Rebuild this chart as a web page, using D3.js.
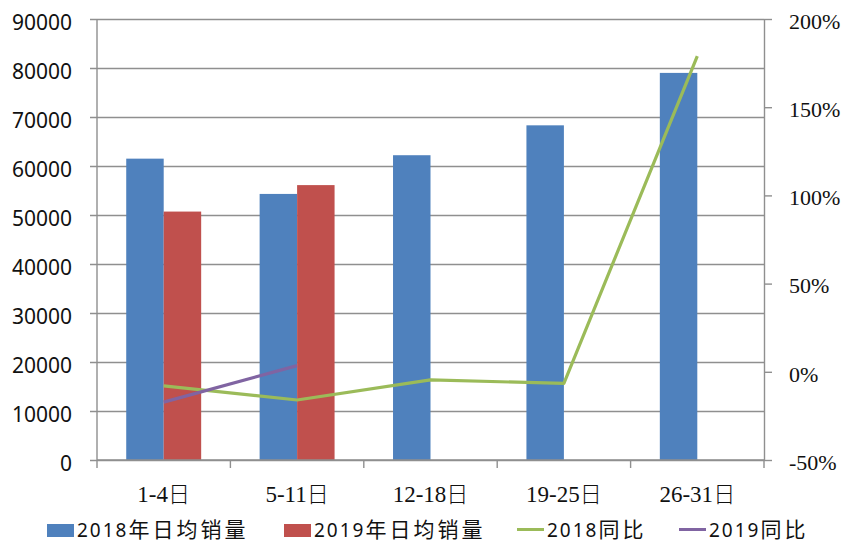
<!DOCTYPE html>
<html><head><meta charset="utf-8">
<script src="https://cdn.jsdelivr.net/npm/d3@7"></script>
<style>
html,body{margin:0;padding:0;background:#fff;}
</style></head>
<body>
<svg id="chart" width="846" height="543"></svg>
<script>
const categories = ["1-4日","5-11日","12-18日","19-25日","26-31日"];
const sales2018 = [61500, 54300, 62200, 68300, 79000];
const sales2019 = [50700, 56100, null, null, null];
const yoy2018 = [-0.08, -0.16, -0.046, -0.066, 1.79];
const yoy2019 = [-0.172, 0.035, null, null, null];
const leftTicks = [0,10000,20000,30000,40000,50000,60000,70000,80000,90000];
const rightTicks = [-0.5,0,0.5,1,1.5,2];
const rightTickLabels = ["-50%","0%","50%","100%","150%","200%"];
const seriesNames = ["2018年日均销量","2019年日均销量","2018同比","2019同比"];
const colors = {s18:"#4F81BD", s19:"#C0504D", y18:"#9BBB59", y19:"#8064A2"};

const L = 97, R = 764, T = 19, B = 460;
const grid = "#8f8f8f";
const svg = d3.select("#chart");

const x = d3.scaleBand().domain(categories).range([L, R]).paddingInner(0).paddingOuter(0);
const xs = d3.scaleBand().domain(["2018","2019"]).range([0, x.bandwidth()]).paddingInner(0).paddingOuter(0.78);
const yL = d3.scaleLinear().domain([0, 90000]).range([B, T]);
const yR = d3.scaleLinear().domain([-0.5, 2]).range([B, T]);

function runs(s){
  const out=[]; let cur="", cj=null;
  for(const ch of s){ const c = /[^\x00-\x7f]/.test(ch); if(cj===null||c===cj){cur+=ch;cj=c;} else {out.push([cur,cj]);cur=ch;cj=c;} }
  if(cur) out.push([cur,cj]); return out;
}

// Left axis with gridlines
const gL = svg.append("g").attr("transform",`translate(${R},0)`)
  .call(d3.axisLeft(yL).tickValues(leftTicks).tickSize(R-L+7).tickPadding(18).tickFormat(d3.format("d")));
gL.select(".domain").remove();
gL.selectAll(".tick line").attr("stroke", grid).attr("stroke-width", 1.4);
gL.selectAll(".tick text").attr("font-family","'Noto Sans', 'Open Sans', sans-serif").attr("font-size",21)
  .attr("fill","#111").attr("dy","0.52em");

svg.append("line").attr("x1",L).attr("x2",L).attr("y1",T).attr("y2",B).attr("stroke",grid).attr("stroke-width",1.4);

// Bars
const bars = svg.append("g");
categories.forEach((c,i)=>{
  bars.append("rect").attr("x", x(c)+xs("2018")).attr("width", xs.bandwidth())
    .attr("y", yL(sales2018[i])).attr("height", B - yL(sales2018[i])).attr("fill", colors.s18);
  if(sales2019[i]!=null)
    bars.append("rect").attr("x", x(c)+xs("2019")).attr("width", xs.bandwidth())
      .attr("y", yL(sales2019[i])).attr("height", B - yL(sales2019[i])).attr("fill", colors.s19);
});

// X axis line and boundary ticks
svg.append("line").attr("x1",L).attr("x2",R).attr("y1",B).attr("y2",B).attr("stroke",grid).attr("stroke-width",1.4);
const bounds = [x(categories[0])].concat(categories.map(c=>x(c)+x.bandwidth()));
svg.selectAll(".xt").data(bounds).enter().append("line")
  .attr("x1",d=>d).attr("x2",d=>d).attr("y1",B).attr("y2",B+8).attr("stroke",grid).attr("stroke-width",1.4);

// X labels
const gX = svg.append("g").attr("transform",`translate(0,${B})`)
  .call(d3.axisBottom(x).tickSize(0).tickPadding(0));
gX.select(".domain").remove();
gX.selectAll(".tick text").each(function(d){
  const t = d3.select(this); t.text(null).attr("y",42).attr("dy",0).attr("fill","#111").attr("font-size",22);
  runs(d).forEach(([s,cj])=>{
    t.append("tspan").text(s).attr("font-family", cj ? "'Noto Sans CJK SC', sans-serif" : "'Liberation Serif', 'Times New Roman', serif")
      .attr("font-weight", cj ? 300 : 400).attr("font-size", cj ? 22 : 23);
  });
});

// Right axis
const gR = svg.append("g").attr("transform",`translate(${R},0)`)
  .call(d3.axisRight(yR).tickValues(rightTicks).tickSize(8).tickSizeOuter(0).tickPadding(17)
    .tickFormat((d,i)=>rightTickLabels[i]));
gR.select(".domain").attr("stroke",grid).attr("stroke-width",1.4);
gR.selectAll(".tick line").attr("stroke",grid).attr("stroke-width",1.4);
gR.selectAll(".tick text").attr("font-family","'Liberation Serif', 'Times New Roman', serif").attr("font-size",22)
  .attr("fill","#111").attr("dy","0.42em");

// Lines
const cx = (c)=> x(c) + x.bandwidth()/2;
const line = d3.line().defined(d=>d.v!=null).x(d=>cx(d.c)).y(d=>yR(d.v));
svg.append("path").datum(categories.map((c,i)=>({c, v:yoy2018[i]})))
  .attr("d", line).attr("fill","none").attr("stroke", colors.y18).attr("stroke-width",3.2).attr("stroke-linejoin","round");
svg.append("path").datum(categories.map((c,i)=>({c, v:yoy2019[i]})))
  .attr("d", line).attr("fill","none").attr("stroke", colors.y19).attr("stroke-width",3.2).attr("stroke-linejoin","round");

// Legend
const legX = [47, 284, 517, 679];
const legType = ["rect","rect","line","line"];
const legCol = [colors.s18, colors.s19, colors.y18, colors.y19];
const leg = svg.append("g");
seriesNames.forEach((name,i)=>{
  if(legType[i]==="rect") leg.append("rect").attr("x",legX[i]).attr("y",524).attr("width",27).attr("height",13).attr("fill",legCol[i]);
  else leg.append("line").attr("x1",legX[i]).attr("x2",legX[i]+27).attr("y1",529.5).attr("y2",529.5).attr("stroke",legCol[i]).attr("stroke-width",3);
  const t = leg.append("text").attr("x",legX[i]+30).attr("y",537).attr("fill","#111");
  runs(name).forEach(([s,cj])=>{
    t.append("tspan").text(s)
      .attr("font-family", cj ? "'Noto Sans CJK SC', sans-serif" : "'Noto Sans', sans-serif")
      .attr("font-size", cj ? 21 : 19).attr("font-weight", 400)
      .attr("letter-spacing", cj ? 3 : 2);
  });
});
</script>
</body></html>
